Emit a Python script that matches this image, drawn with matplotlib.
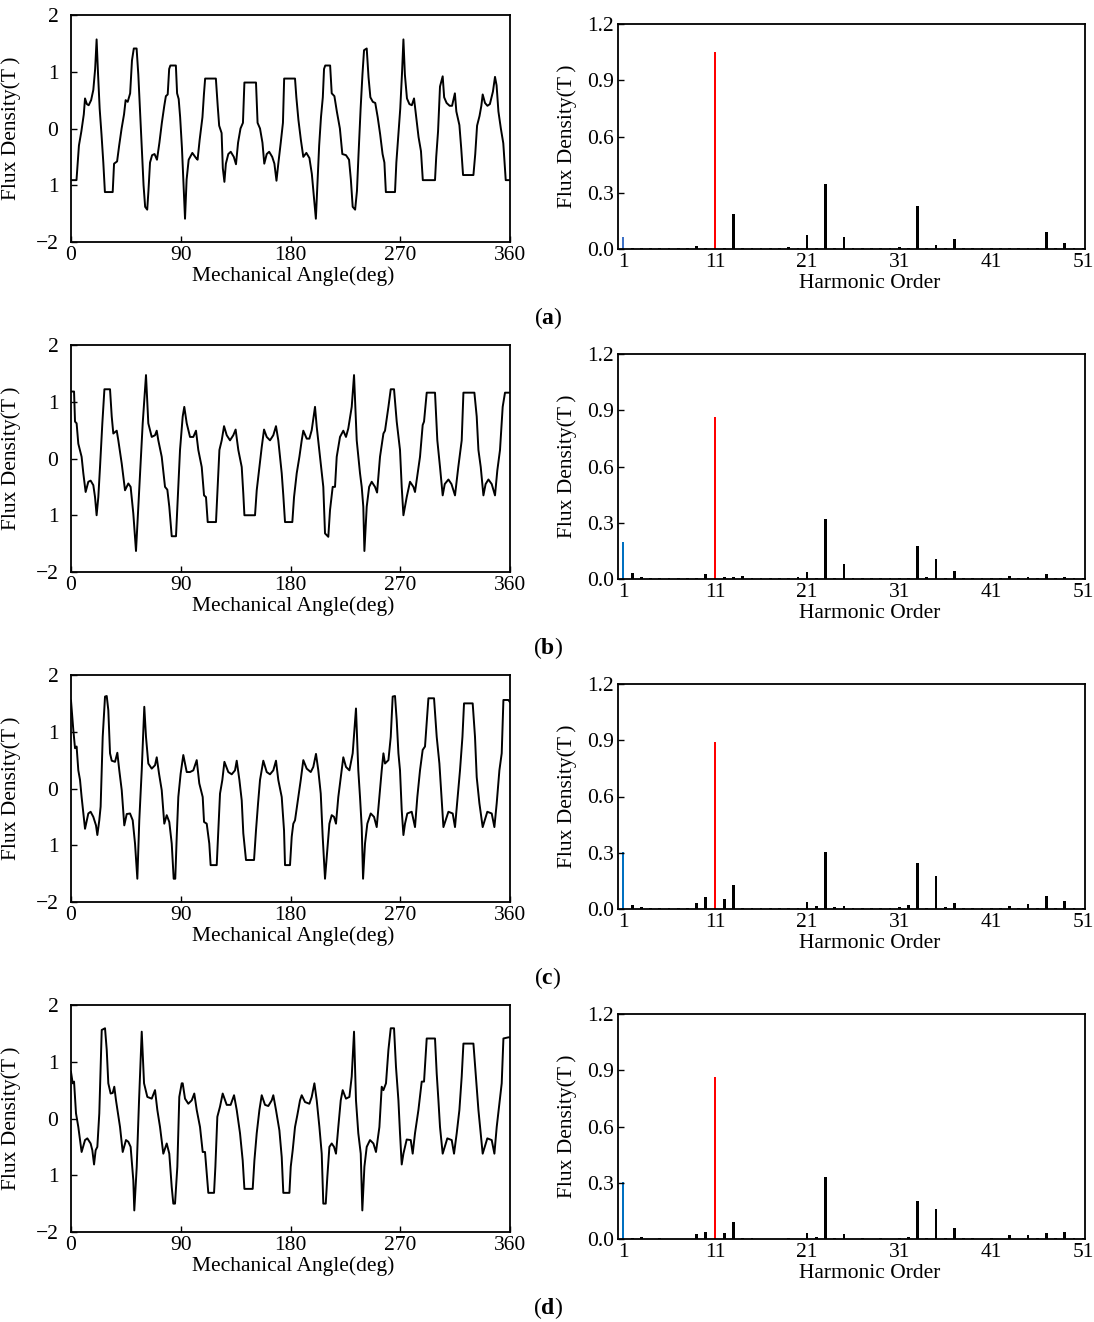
import numpy as np
import matplotlib
matplotlib.use("Agg")
import matplotlib.pyplot as plt

plt.rcParams['font.family'] = ['Liberation Serif', 'DejaVu Serif']
plt.rcParams['mathtext.fontset'] = 'custom'
plt.rcParams['mathtext.rm'] = 'Liberation Serif'
plt.rcParams['mathtext.bf'] = 'Liberation Serif:bold'

# ---- air-gap flux density waveforms (angle in deg, flux density in T) ----
wave_a = [(0, -0.91), (4.5, -0.91), (5.5, -0.6), (6.5, -0.3), (8.5, -0.05), (10.5, 0.25), (11.5, 0.53),
          (13.0, 0.43), (14.5, 0.41), (16.5, 0.50), (18.3, 0.68), (19.8, 1.05), (21.0, 1.57), (22.2, 0.95),
          (23.5, 0.35), (25.0, -0.10), (26.5, -0.60), (27.8, -1.12), (34.2, -1.12), (35.3, -0.62), (37.8, -0.58),
          (39.5, -0.30), (41.5, 0.00), (43.5, 0.25), (44.8, 0.50), (46.5, 0.47), (48.5, 0.62), (50.0, 1.20),
          (51.5, 1.41), (53.8, 1.41), (55.2, 0.95), (56.5, 0.35), (58.3, -0.45), (59.5, -1.00), (60.8, -1.38),
          (62.5, -1.43), (63.5, -1.10), (64.8, -0.60), (66.5, -0.47), (68.5, -0.45), (70.5, -0.55), (72.5, -0.25),
          (74.5, 0.10), (76.5, 0.40), (77.8, 0.57), (79.3, 0.60), (80.5, 1.05), (81.5, 1.11), (86.0, 1.11),
          (87.0, 0.62), (88.3, 0.52), (89.5, 0.20), (91.0, -0.35), (92.5, -1.10), (93.5, -1.59), (94.8, -0.90),
          (96.5, -0.55), (99.5, -0.43), (102.5, -0.52), (103.8, -0.55), (105.5, -0.20), (107.8, 0.20), (109.0, 0.60),
          (110.0, 0.88), (118.8, 0.88), (120.3, 0.40), (121.5, 0.05), (123.5, -0.08), (124.5, -0.70), (125.8, -0.94),
          (127.0, -0.62), (129.0, -0.45), (131.0, -0.41), (133.5, -0.50), (135.3, -0.63), (137.0, -0.25), (139.0, 0.00),
          (141.0, 0.10), (142.2, 0.81), (151.7, 0.81), (153.0, 0.10), (155.0, 0.00), (157.0, -0.25), (158.5, -0.62),
          (160.5, -0.45), (162.5, -0.41), (165.0, -0.50), (166.8, -0.62), (168.5, -0.92), (170.0, -0.62), (172.0, -0.25),
          (173.8, 0.10), (174.8, 0.88), (183.7, 0.88), (184.8, 0.55), (186.5, 0.15), (188.5, -0.20), (190.5, -0.50),
          (193.0, -0.43), (195.5, -0.52), (197.5, -0.80), (200.8, -1.59), (202.0, -1.00), (203.5, -0.30), (205.0, 0.20),
          (206.5, 0.55), (207.5, 1.05), (208.5, 1.11), (212.5, 1.11), (213.8, 0.62), (216.0, 0.57), (218.0, 0.30),
          (220.5, 0.00), (222.5, -0.45), (225.5, -0.47), (228.0, -0.55), (229.5, -0.90), (231.0, -1.38), (233.0, -1.43),
          (234.5, -1.10), (235.8, -0.45), (237.5, 0.35), (239.0, 0.95), (240.3, 1.38), (242.5, 1.41), (244.0, 0.90),
          (245.5, 0.55), (247.5, 0.47), (249.5, 0.45), (251.5, 0.20), (253.5, -0.10), (255.5, -0.45), (257.0, -0.60),
          (258.2, -1.12), (265.7, -1.12), (266.8, -0.60), (268.5, -0.10), (270.0, 0.35), (271.5, 1.00), (272.6, 1.57),
          (273.8, 0.95), (275.5, 0.53), (277.5, 0.43), (279.5, 0.41), (281.3, 0.53), (283.0, 0.22), (285.0, -0.15),
          (287.0, -0.40), (288.5, -0.91), (298.5, -0.91), (299.5, -0.50), (301.0, -0.05), (302.6, 0.74), (304.8, 0.92),
          (306.0, 0.55), (308.0, 0.45), (310.5, 0.40), (312.5, 0.40), (314.8, 0.62), (316.0, 0.30), (318.5, 0.06),
          (320.0, -0.35), (321.5, -0.82), (330.0, -0.82), (331.5, -0.45), (333.0, 0.05), (335.0, 0.22), (336.5, 0.40),
          (337.6, 0.60), (339.5, 0.45), (341.5, 0.40), (343.5, 0.43), (346.0, 0.65), (347.7, 0.91), (349.0, 0.76),
          (350.5, 0.30), (352.5, 0.00), (354.5, -0.26), (356.5, -0.91), (360, -0.91)]

wave_b = [(0, 1.18), (2.5, 1.18), (3.3, 0.65), (4.6, 0.62), (6.0, 0.26), (8.7, 0.03), (10.1, -0.26), (12.0, -0.59),
          (14.2, -0.41), (16.1, -0.39), (18.3, -0.47), (19.7, -0.68), (21.0, -1.0), (22.4, -0.68), (23.8, -0.15),
          (25.7, 0.62), (27.4, 1.22), (32.0, 1.22), (33.4, 0.74), (34.7, 0.44), (37.5, 0.49), (38.8, 0.32),
          (41.6, -0.09), (44.3, -0.56), (47.0, -0.44), (48.9, -0.5), (51.1, -0.97), (53.3, -1.63), (55.2, -0.85),
          (56.6, -0.26), (58.8, 0.62), (61.5, 1.47), (63.4, 0.62), (66.2, 0.38), (68.9, 0.41), (70.3, 0.49),
          (71.6, 0.32), (74.4, 0.03), (77.1, -0.5), (79.0, -0.55), (80.6, -0.85), (82.6, -1.37), (86.1, -1.37),
          (87.2, -0.85), (89.4, 0.15), (91.6, 0.74), (92.9, 0.91), (94.9, 0.62), (97.6, 0.38), (100.3, 0.38),
          (102.5, 0.49), (104.4, 0.15), (107.2, -0.15), (109.1, -0.65), (110.7, -0.68), (112.1, -1.12), (118.9, -1.12),
          (120.0, -0.62), (121.7, 0.15), (123.6, 0.32), (125.5, 0.57), (127.7, 0.41), (130.4, 0.32), (133.1, 0.41),
          (135.0, 0.51), (137.2, 0.15), (140.0, -0.15), (141.3, -0.62), (142.2, -1.0), (150.9, -1.0), (152.3, -0.56),
          (154.5, -0.15), (156.4, 0.2), (158.3, 0.51), (160.5, 0.38), (163.2, 0.32), (165.9, 0.41), (168.1, 0.57),
          (170.0, 0.32), (172.8, -0.26), (174.1, -0.65), (175.5, -1.12), (181.5, -1.12), (182.9, -0.68), (185.1, -0.26),
          (187.3, 0.03), (189.2, 0.32), (190.5, 0.49), (193.3, 0.35), (195.5, 0.35), (197.4, 0.5), (200.1, 0.91),
          (201.5, 0.56), (204.2, 0.03), (206.9, -0.5), (208.3, -1.32), (211.0, -1.38), (212.4, -0.91), (214.6, -0.5),
          (216.5, -0.5), (217.9, 0.03), (220.6, 0.38), (223.3, 0.49), (225.5, 0.38), (227.4, 0.53), (230.2, 0.91),
          (232.1, 1.47), (234.3, 0.32), (237.0, -0.26), (238.4, -0.5), (239.7, -0.85), (240.6, -1.63), (242.5, -0.85),
          (244.5, -0.5), (246.6, -0.41), (249.3, -0.5), (251.0, -0.6), (253.4, 0.03), (256.2, 0.44), (257.5, 0.49),
          (260.3, 0.91), (262.2, 1.22), (264.9, 1.22), (267.1, 0.65), (269.8, 0.15), (271.2, -0.5), (272.6, -1.0),
          (275.3, -0.68), (278.0, -0.41), (280.8, -0.5), (282.1, -0.59), (283.5, -0.38), (286.2, 0.03), (288.4, 0.59),
          (289.5, 0.65), (291.7, 1.16), (298.5, 1.16), (300.4, 0.32), (302.6, -0.15), (304.8, -0.65), (306.5, -0.45),
          (309.5, -0.37), (312.0, -0.45), (314.9, -0.65), (317.6, -0.15), (320.4, 0.32), (321.8, 1.16), (330.8, 1.16),
          (332.7, 0.74), (334.1, 0.15), (336.0, -0.15), (338.2, -0.65), (340.0, -0.45), (342.3, -0.37), (345.0, -0.45),
          (347.7, -0.65), (349.6, -0.21), (351.8, 0.15), (354.0, 0.91), (355.9, 1.16), (360, 1.16)]

wave_c = [(0, 1.55), (1.9, 1.03), (3.3, 0.71), (4.6, 0.74), (6.0, 0.32), (7.4, 0.15), (8.7, -0.15), (11.5, -0.71),
          (14.2, -0.44), (16.1, -0.41), (18.3, -0.5), (20.5, -0.65), (21.6, -0.82), (23.2, -0.56), (24.3, -0.32),
          (26.0, 0.91), (27.9, 1.62), (29.3, 1.63), (30.6, 1.38), (32.0, 0.62), (33.4, 0.49), (36.1, 0.47),
          (38.0, 0.63), (39.6, 0.32), (41.6, -0.03), (43.7, -0.65), (45.7, -0.45), (48.4, -0.44), (50.6, -0.56),
          (52.5, -0.97), (54.4, -1.59), (56.0, -0.56), (58.0, 0.32), (60.1, 1.44), (61.5, 0.91), (63.4, 0.44),
          (66.2, 0.35), (68.9, 0.41), (70.3, 0.55), (72.2, 0.26), (74.4, -0.03), (76.5, -0.62), (78.5, -0.47),
          (80.6, -0.59), (82.6, -0.97), (84.2, -1.59), (85.5, -1.59), (86.7, -0.85), (88.0, -0.15), (89.9, 0.26),
          (92.1, 0.59), (94.9, 0.29), (97.6, 0.29), (100.3, 0.32), (103.1, 0.5), (105.2, 0.09), (108.0, -0.15),
          (109.1, -0.59), (111.3, -0.62), (113.4, -0.97), (114.5, -1.35), (119.5, -1.35), (120.6, -0.85), (122.2, -0.09),
          (124.1, 0.15), (125.8, 0.47), (129.0, 0.29), (131.8, 0.25), (134.5, 0.32), (135.9, 0.49), (138.1, 0.15),
          (140.0, -0.21), (141.3, -0.79), (143.5, -1.26), (150.1, -1.26), (151.7, -0.74), (153.4, -0.26), (155.0, 0.15),
          (157.7, 0.49), (160.5, 0.29), (163.2, 0.25), (165.9, 0.32), (168.1, 0.49), (170.0, 0.15), (172.8, -0.15),
          (174.7, -0.74), (175.5, -1.35), (179.6, -1.35), (181.0, -0.85), (182.3, -0.62), (183.7, -0.56), (186.4, -0.15),
          (188.4, 0.15), (190.5, 0.5), (193.3, 0.35), (196.6, 0.29), (198.7, 0.38), (200.9, 0.61), (202.8, 0.32),
          (204.8, -0.09), (206.4, -0.85), (208.3, -1.59), (209.7, -1.21), (211.9, -0.62), (213.8, -0.47), (215.7, -0.5),
          (217.3, -0.62), (219.2, -0.15), (222.0, 0.32), (223.3, 0.55), (225.5, 0.38), (228.3, 0.32), (231.0, 0.62),
          (233.7, 1.41), (235.6, 0.32), (237.0, -0.15), (238.4, -0.68), (239.5, -1.59), (241.1, -0.97), (243.0, -0.62),
          (245.8, -0.44), (248.5, -0.5), (250.7, -0.68), (252.9, -0.15), (254.8, 0.32), (256.2, 0.62), (257.5, 0.44),
          (260.3, 0.5), (262.2, 0.91), (263.8, 1.62), (265.7, 1.63), (267.1, 1.2), (268.5, 0.62), (269.8, 0.32),
          (271.2, -0.38), (272.6, -0.82), (273.9, -0.62), (275.8, -0.44), (279.4, -0.41), (282.1, -0.68), (284.0, -0.15),
          (286.2, 0.32), (288.4, 0.68), (290.3, 0.74), (293.1, 1.59), (297.7, 1.59), (299.9, 0.91), (302.1, 0.44),
          (304.0, -0.21), (305.4, -0.68), (309.5, -0.41), (313.0, -0.44), (314.9, -0.68), (317.1, -0.15), (319.0, 0.32),
          (321.0, 0.91), (322.3, 1.5), (329.4, 1.5), (331.3, 0.91), (332.7, 0.2), (334.9, -0.26), (337.6, -0.68),
          (341.4, -0.41), (345.0, -0.44), (347.2, -0.68), (349.1, -0.26), (351.3, 0.32), (353.2, 0.62), (354.6, 1.56),
          (358.7, 1.56), (360, 1.52)]

wave_d = [(0, 0.82), (1.4, 0.62), (2.5, 0.65), (4.1, 0.09), (6.0, -0.15), (8.7, -0.59), (11.5, -0.38), (13.4, -0.35),
          (16.1, -0.44), (17.5, -0.56), (18.9, -0.81), (20.2, -0.56), (21.6, -0.5), (23.2, 0.09), (25.2, 1.56),
          (27.9, 1.59), (29.3, 1.21), (30.6, 0.62), (32.5, 0.44), (34.2, 0.45), (35.5, 0.56), (36.9, 0.32),
          (40.2, -0.15), (42.4, -0.59), (45.1, -0.38), (47.0, -0.41), (48.9, -0.5), (51.1, -1.09), (51.9, -1.62),
          (53.9, -0.85), (55.8, 0.32), (58.0, 1.53), (59.9, 0.62), (62.6, 0.38), (66.2, 0.35), (68.9, 0.5),
          (70.8, 0.15), (73.0, -0.15), (75.7, -0.62), (78.5, -0.44), (80.6, -0.62), (82.6, -1.21), (83.9, -1.5),
          (85.3, -1.5), (87.2, -0.85), (88.8, 0.38), (90.8, 0.62), (91.6, 0.62), (93.5, 0.35), (96.2, 0.26),
          (99.0, 0.32), (101.1, 0.44), (103.1, 0.15), (105.8, -0.15), (108.0, -0.59), (109.9, -0.59), (111.3, -0.97),
          (112.6, -1.31), (117.3, -1.31), (118.4, -0.85), (120.0, 0.03), (122.2, 0.21), (124.4, 0.44), (127.7, 0.24),
          (130.9, 0.24), (133.7, 0.41), (135.9, 0.15), (138.6, -0.26), (140.8, -0.74), (142.2, -1.24), (149.0, -1.24),
          (150.4, -0.74), (152.3, -0.26), (154.5, 0.15), (156.4, 0.41), (159.1, 0.24), (161.8, 0.22), (164.6, 0.32),
          (165.9, 0.41), (168.1, 0.15), (170.9, -0.21), (172.8, -0.68), (174.1, -1.31), (179.1, -1.31), (180.2, -0.85),
          (181.8, -0.56), (183.7, -0.15), (185.6, 0.06), (187.8, 0.32), (189.2, 0.41), (191.9, 0.29), (195.5, 0.26),
          (197.4, 0.38), (199.6, 0.62), (201.5, 0.32), (203.7, -0.15), (205.6, -0.62), (206.9, -1.5), (208.9, -1.5),
          (210.2, -1.03), (211.9, -0.5), (213.8, -0.44), (215.7, -0.5), (217.3, -0.62), (219.2, -0.15), (221.2, 0.32),
          (222.8, 0.5), (225.5, 0.35), (228.3, 0.38), (230.2, 0.74), (232.1, 1.53), (233.7, 0.32), (235.6, -0.26),
          (237.6, -0.62), (238.9, -1.62), (240.6, -0.85), (242.5, -0.5), (245.2, -0.38), (248.0, -0.44), (250.1, -0.59),
          (252.9, -0.15), (254.8, 0.56), (256.2, 0.5), (258.3, 0.62), (260.3, 1.21), (262.2, 1.59), (264.9, 1.59),
          (266.5, 0.91), (268.5, 0.32), (269.8, -0.26), (271.2, -0.81), (272.6, -0.62), (275.3, -0.37), (278.6, -0.38),
          (280.2, -0.62), (282.1, -0.26), (284.9, 0.15), (287.6, 0.65), (289.5, 0.65), (291.7, 1.41), (298.5, 1.41),
          (299.9, 0.79), (301.3, 0.32), (302.6, -0.15), (304.8, -0.62), (308.6, -0.35), (312.2, -0.38), (314.1, -0.62),
          (316.3, -0.26), (318.5, 0.15), (320.4, 0.74), (321.8, 1.32), (330.0, 1.32), (332.2, 0.68), (334.1, 0.15),
          (336.0, -0.26), (337.6, -0.62), (341.4, -0.35), (345.0, -0.38), (347.2, -0.62), (349.1, -0.15), (351.3, 0.26),
          (353.2, 0.62), (354.6, 1.41), (358.7, 1.43), (360, 1.43)]

# ---- harmonic amplitudes, orders 1..51 ----
orders = list(range(1, 52))
harm_a = [0.062, .004, .004, .004, .004, .004, .004, .004, 0.014, .004,
          1.05, .004, 0.185, .004, .004, .004, .004, .004, 0.009, .004,
          0.073, .004, 0.345, .004, 0.062, .004, .004, .004, .004, .004,
          0.009, .004, 0.23, .004, 0.02, .004, 0.052, .004, .004, .004,
          .004, .004, .004, .004, .004, .004, 0.091, .004, 0.03, .004, .004]
harm_b = [0.20, 0.03, 0.009, .004, .004, .004, .004, .004, .004, 0.025,
          0.863, 0.009, 0.009, 0.014, .004, .004, .004, .004, .004, 0.009,
          0.037, .004, 0.319, .004, 0.078, .004, .004, .004, .004, .004,
          .004, .004, 0.175, 0.009, 0.105, .004, 0.041, .004, .004, .004,
          .004, .004, 0.014, .004, 0.009, .004, 0.025, .004, 0.009, .004, .004]
harm_c = [0.306, 0.02, 0.01, .004, .004, .004, .004, .004, 0.034, 0.066,
          0.89, 0.055, 0.13, .004, .004, .004, .004, .004, .004, .004,
          0.04, 0.018, 0.306, 0.012, 0.018, .004, .004, .004, .004, .004,
          0.012, 0.023, 0.247, .004, 0.178, 0.012, 0.034, .004, .004, .004,
          .004, .004, 0.018, .004, 0.028, .004, 0.071, .004, 0.045, .004, .004]
harm_d = [0.306, 0.007, 0.012, 0.0, 0.007, 0.0, 0.0, 0.0, 0.028, 0.039,
          0.863, 0.034, 0.093, 0.007, 0.007, 0.0, 0.0, 0.0, 0.007, 0.0,
          0.034, 0.012, 0.333, 0.007, 0.028, 0.0, 0.007, 0.0, 0.007, 0.0,
          0.007, 0.012, 0.205, 0.007, 0.162, 0.007, 0.06, 0.007, 0.007, 0.0,
          0.007, 0.0, 0.023, 0.0, 0.023, 0.007, 0.034, 0.007, 0.039, 0.007, 0.007]

waves = [wave_a, wave_b, wave_c, wave_d]
harms = [harm_a, harm_b, harm_c, harm_d]
panel_tags = ['a', 'b', 'c', 'd']
fund_colors = ['#3f72c6', '#0070c0', '#0070c0', '#0070c0']

W, H = 1094, 1322
fig = plt.figure(figsize=(W / 100, H / 100), dpi=100)
fs = 15.5

for k in range(4):
    off = 330 * k
    # waveform panel
    ax = fig.add_axes([71 / W, 1 - (242 + off) / H, 439 / W, 227 / H])
    pts = np.array(waves[k])
    ax.plot(pts[:, 0], pts[:, 1], color='black', lw=1.4)
    ax.set_xlim(0, 360)
    ax.set_ylim(-2, 2)
    ax.set_xticks([0, 90, 180, 270, 360])
    ax.set_yticks([-2, -1, 0, 1, 2])
    ax.set_yticklabels(['\u22122', '1', '0', '1', '2'])
    ax.tick_params(direction='in', length=4, width=1, labelsize=fs, pad=3)
    ax.tick_params(axis='y', pad=9)
    ax.set_xlabel('Mechanical Angle(deg)', fontsize=fs)
    ax.xaxis.set_label_coords(0.506, -0.105)
    ax.set_ylabel('Flux Density(T\u2009)', fontsize=fs)
    ax.yaxis.set_label_coords(-0.115, 0.5)
    for s in ax.spines.values():
        s.set_linewidth(1.3)

    # spectrum panel
    bar_colors = [fund_colors[k]] + ['black'] * 9 + ['#ff0000'] + ['black'] * 40
    bx = fig.add_axes([618 / W, 1 - (249 + off) / H, 467 / W, 225 / H])
    bx.bar(orders, harms[k], width=0.3, color=bar_colors)
    bx.set_xlim(0.45, 51.2)
    bx.set_ylim(0, 1.2)
    bx.set_xticks([1, 11, 21, 31, 41, 51])
    bx.set_yticks([0.0, 0.3, 0.6, 0.9, 1.2])
    bx.set_yticklabels(['0.0', '0.3', '0.6', '0.9', '1.2'])
    bx.tick_params(direction='in', length=4, width=1, labelsize=fs, pad=3)
    bx.tick_params(axis='x', length=0)
    bx.set_xlabel('Harmonic Order', fontsize=fs)
    bx.xaxis.set_label_coords(0.54, -0.11)
    bx.set_ylabel('Flux Density(T\u2009)', fontsize=fs)
    bx.yaxis.set_label_coords(-0.088, 0.5)
    for s in bx.spines.values():
        s.set_linewidth(1.3)

    fig.text(548 / W, 1 - (318 + off) / H, r'($\mathbf{' + panel_tags[k] + r'}$)',
             ha='center', va='center', fontsize=17)

fig.savefig('out.png', dpi=100)
